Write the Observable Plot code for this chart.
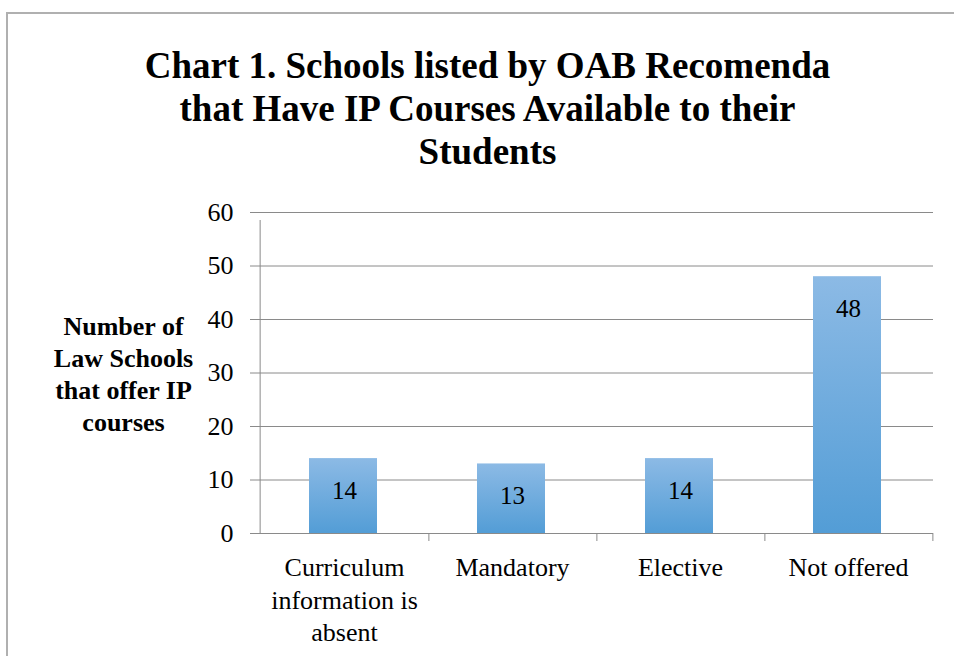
<!DOCTYPE html>
<html><head><meta charset="utf-8">
<script src="https://cdn.jsdelivr.net/npm/d3@7"></script>
<script src="https://cdn.jsdelivr.net/npm/@observablehq/plot@0.6"></script>
<style>
html,body{margin:0;padding:0;background:#fff}
body{overflow:hidden;width:954px;height:656px;position:relative}
#chart{position:absolute;left:0;top:0}
#chart svg, #chart svg text, #chart svg g {font-family:"Liberation Serif","Times New Roman",serif !important}
#frame{position:absolute;left:6px;top:12px;width:1000px;height:700px;border:2px solid #b0b0b0;box-sizing:border-box;pointer-events:none}
</style></head><body>
<div id="chart"></div><div id="frame"></div>
<script>
const categories = ["Curriculum information is absent", "Mandatory", "Elective", "Not offered"];
const categoryLabels = ["Curriculum\ninformation is\nabsent", "Mandatory", "Elective", "Not offered"];
const values = [14, 13, 14, 48];
const yTicks = [0, 10, 20, 30, 40, 50, 60];
const titleText = "Chart 1. Schools listed by OAB Recomenda\nthat Have IP Courses Available to their\nStudents";
const yLabel = "Number of\nLaw Schools\nthat offer IP\ncourses";

const data = categories.map((c, i) => ({category: c, value: values[i], label: categoryLabels[i]}));
const W = 954, H = 656, mL = 258, mR = 21, mT = 212, mB = 123;
const bw = (W - mL - mR) / categories.length;
const serif = "'Liberation Serif', 'Times New Roman', serif";
const lineColor = "#8a8a8a";

function gradientDefs() {
  const defs = d3.create("svg:defs");
  const g = defs.append("linearGradient").attr("id", "barGrad")
    .attr("x1", 0).attr("y1", 0).attr("x2", 0).attr("y2", 1);
  g.append("stop").attr("offset", "0%").attr("stop-color", "#8cbae5");
  g.append("stop").attr("offset", "100%").attr("stop-color", "#539dd6");
  return defs.node();
}

const chart = Plot.plot({
  width: W, height: H,
  marginLeft: mL, marginRight: mR, marginTop: mT, marginBottom: mB,
  style: {fontFamily: serif, background: "transparent", color: "#000", overflow: "visible"},
  x: {domain: categories, padding: 0, axis: null},
  y: {domain: [0, 60], ticks: yTicks},
  marks: [
    gradientDefs,
    Plot.gridY(yTicks, {stroke: lineColor, strokeOpacity: 1}),
    Plot.barY(data, {x: "category", y: "value", fill: "url(#barGrad)", insetLeft: 49, insetRight: 51}),
    Plot.ruleY([0], {stroke: lineColor}),
    Plot.ruleX([categories[0]], {y1: 0, y2: 60, dx: -bw / 2, insetBottom: -8, stroke: lineColor}),
    Plot.ruleX(categories, {y1: 0, y2: 0, dx: bw / 2, insetBottom: -8, stroke: lineColor}),
    Plot.axisY(yTicks, {tickSize: 8, tickPadding: 17, fontSize: 26, stroke: lineColor, label: null, fontFamily: serif}),
    Plot.text(data, {x: "category", text: "label", frameAnchor: "bottom", dy: 19.5, lineAnchor: "top",
      fontSize: 26, lineHeight: 1.25, fill: "#000", fontFamily: serif}),
    Plot.text(data, {x: "category", y: "value", text: d => String(d.value), dy: 32.5, fontSize: 25, fill: "#000", fontFamily: serif}),
    Plot.text([titleText], {frameAnchor: "top-left", dx: 229, dy: -105, fontSize: 37, fontWeight: "bold",
      lineHeight: 1.16, textAnchor: "middle", lineAnchor: "middle", fill: "#000", fontFamily: serif}),
    Plot.text([yLabel], {frameAnchor: "left", dx: -135, dy: -0.5, fontSize: 26, fontWeight: "bold",
      lineHeight: 1.23, textAnchor: "middle", lineAnchor: "middle", fill: "#000", fontFamily: serif})
  ]
});
document.getElementById("chart").appendChild(chart);
</script>
</body></html>
